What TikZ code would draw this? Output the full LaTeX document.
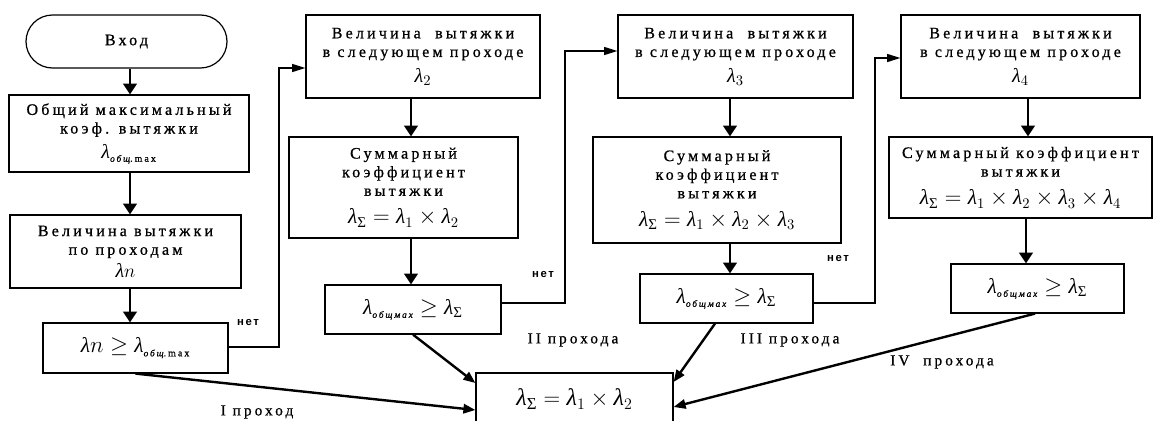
\documentclass[tikz,border=0pt]{standalone}
\usepackage{amsmath}
\usepackage{fontspec}
\setmainfont{Liberation Serif}
\newfontfamily\razr[LetterSpace=20,FakeBold=0.8]{Liberation Serif}
\newfontfamily\netshr[LetterSpace=15]{Liberation Sans}
\usepackage{tikz}
\usetikzlibrary{arrows.meta}
\usetikzlibrary{shapes}
\newcommand{\lam}{\text{\normalfont\itshape λ}}
\newcommand{\sgm}{\text{\normalfont Σ}}
\newcommand{\melk}[1]{\text{\razr\itshape\fontsize{7}{8}\selectfont #1}}
\newcommand{\obmax}{\melk{общ}\text{\razr\fontsize{7.5}{8}\selectfont .max}}
\newcommand{\obmah}{\melk{общмах}}

\begin{document}
\begin{tikzpicture}[x=0.75pt,y=-0.75pt,
  blok/.style={draw,line width=0.9pt,inner sep=0pt,align=center,
    font=\razr\fontsize{12}{14}\selectfont},
  formula/.style={blok,font=\normalfont\fontsize{16}{18}\selectfont},
  strelka/.style={-{Triangle[width=10pt,length=8pt]},line width=2.2pt},
  netlin/.style={-{Triangle[width=6pt,length=10pt]},line width=1pt},
  vyhod/.style={-{Triangle[width=7pt,length=9pt]},line width=1.8pt},
  metka/.style={font=\razr\fontsize{11.5}{13}\selectfont},
  netmetka/.style={font=\netshr\bfseries\fontsize{8.5}{10}\selectfont}]
\useasboundingbox (0,0) rectangle (1153,421);

% first column
\node[blok,shape=rounded rectangle,minimum width=150.75pt,minimum height=39.75pt]
  (vhod) at (126.5,41.5) {Вход};
\node[blok,minimum width=180pt,minimum height=57.75pt] (obsh) at (129,133.5)
  {Общий максимальный\\коэф. вытяжки\\[5pt]{\normalfont\fontsize{15}{16}\selectfont$\lam_{\obmax}$}};
\node[blok,minimum width=173.25pt,minimum height=54.75pt] (velp) at (125.5,251.5)
  {Величина вытяжки\\по проходам\\[3pt]{\normalfont\fontsize{15}{16}\selectfont$\lam n$}};
\node[formula,minimum width=138.75pt,minimum height=37.5pt] (usl1) at (135.5,348)
  {$\lam n \geq \lam_{\obmax}$};

% second pass
\node[blok,minimum width=175.5pt,minimum height=62.25pt] (vel2) at (423,56.5)
  {Величина\ \ вытяжки\\в следующем проходе\\[5pt]{\normalfont\fontsize{15}{16}\selectfont$\lam_2$}};
\node[blok,minimum width=171.75pt,minimum height=75.75pt] (sum2) at (403.5,187.5)
  {Суммарный\\коэффициент\\вытяжки\\[7pt]{\normalfont\fontsize{16}{17}\selectfont$\lam_{\sgm} = \lam_1 \times \lam_2$}};
\node[formula,minimum width=132pt,minimum height=36.75pt] (usl2) at (413,309.5)
  {$\lam_{\obmah} \geq \lam_{\sgm}$};

% third pass
\node[blok,minimum width=176.25pt,minimum height=62.25pt] (vel3) at (735.5,56.5)
  {Величина\ \ вытяжки\\в следующем проходе\\[5pt]{\normalfont\fontsize{15}{16}\selectfont$\lam_3$}};
\node[blok,minimum width=186pt,minimum height=79.5pt] (sum3) at (717,190)
  {Суммарный\\коэффициент\\вытяжки\\[7pt]{\normalfont\fontsize{16}{17}\selectfont$\lam_{\sgm} = \lam_1 \times \lam_2 \times \lam_3$}};
\node[formula,minimum width=129.75pt,minimum height=36.75pt] (usl3) at (726.5,298.5)
  {$\lam_{\obmah} \geq \lam_{\sgm}$};

% fourth pass
\node[blok,minimum width=179.25pt,minimum height=62.25pt] (vel4) at (1020.5,56.5)
  {Величина\ \ вытяжки\\в следующем проходе\\[5pt]{\normalfont\fontsize{15}{16}\selectfont$\lam_4$}};
\node[blok,minimum width=197.25pt,minimum height=60.75pt] (sum4) at (1020.5,177.5)
  {Суммарный коэффициент\\вытяжки\\[7pt]{\normalfont\fontsize{16}{17}\selectfont$\lam_{\sgm} = \lam_1 \times \lam_2 \times \lam_3 \times \lam_4$}};
\node[formula,minimum width=129.75pt,minimum height=36.75pt] (usl4) at (1037.5,288.5)
  {$\lam_{\obmah} \geq \lam_{\sgm}$};

% result
\node[formula,minimum width=147.75pt,minimum height=39pt,font=\normalfont\fontsize{18}{20}\selectfont]
  (itog) at (574.5,399) {$\lam_{\sgm} = \lam_1 \times \lam_2$};

% vertical arrows
\draw[strelka] (vhod.south -| 130,0) -- (obsh.north -| 130,0);
\draw[strelka] (obsh.south -| 130,0) -- (velp.north -| 130,0);
\draw[strelka] (velp.south -| 130,0) -- (usl1.north -| 130,0);
\draw[strelka] (vel2.south -| 411,0) -- (sum2.north -| 411,0);
\draw[strelka] (sum2.south -| 411,0) -- (usl2.north -| 411,0);
\draw[strelka] (vel3.south -| 730,0) -- (sum3.north -| 730,0);
\draw[strelka] (sum3.south -| 730,0) -- (usl3.north -| 730,0);
\draw[strelka] (vel4.south -| 1028,0) -- (sum4.north -| 1028,0);
\draw[strelka] (sum4.south -| 1026,0) -- (usl4.north -| 1026,0);

% loops "net"
\coordinate (n1) at (279,68);
\coordinate (n2) at (565,51);
\coordinate (n3) at (875,58);
\draw[netlin] (usl1.east |- 0,347) -| (n1) -- (n1 -| vel2.west);
\draw[netlin] (usl2.east |- 0,303) -| (n2) -- (n2 -| vel3.west);
\draw[netlin] (usl3.east |- 0,303) -| (n3) -- (n3 -| vel4.west);
\node[netmetka] (net1) at (248,323) {нет};
\node[netmetka] (net2) at (543,275) {нет};
\node[netmetka] (net3) at (838,259) {нет};

% exits
\draw[vyhod] (usl1.south) -- (itog.west |- 0,410);
\draw[vyhod] (usl2.south) -- (itog.west |- 0,383);
\draw[vyhod] (usl3.south -| 715,0) -- (itog.east |- 0,382);
\draw[vyhod] (usl4.south -| 1035,0) -- (itog.east |- 0,407);
\node[metka] (p1) at (257,412) {I проход};
\node[metka] (p2) at (573,340) {II прохода};
\node[metka] (p3) at (790,340) {III прохода};
\node[metka] (p4) at (942,362) {IV\ \ прохода};
\end{tikzpicture}
\end{document}
